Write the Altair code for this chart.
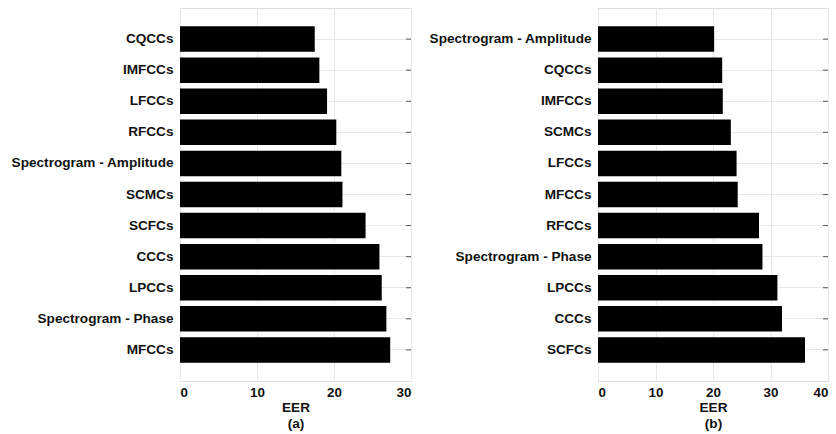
import altair as alt
import pandas as pd

# Panel (a)
cats_a = ["CQCCs", "IMFCCs", "LFCCs", "RFCCs", "Spectrogram - Amplitude", "SCMCs",
          "SCFCs", "CCCs", "LPCCs", "Spectrogram - Phase", "MFCCs"]
eer_a = [17.5, 18.1, 19.1, 20.3, 20.95, 21.1, 24.1, 25.9, 26.2, 26.8, 27.3]

# Panel (b)
cats_b = ["Spectrogram - Amplitude", "CQCCs", "IMFCCs", "SCMCs", "LFCCs", "MFCCs",
          "RFCCs", "Spectrogram - Phase", "LPCCs", "CCCs", "SCFCs"]
eer_b = [20.2, 21.6, 21.7, 23.1, 24.1, 24.3, 28.0, 28.6, 31.2, 32.0, 36.0]

ticks_a = [0, 10, 20, 30]
ticks_b = [0, 10, 20, 30, 40]

FONT = "Liberation Sans"
TXT = "#111111"
FRAME = "#969696"
GRID = "#e8e8e8"


def panel(cats, vals, ticks, xmax, letter, width):
    df = pd.DataFrame({"feature": cats, "EER": vals})
    y = alt.Y("feature:N", sort=cats,
              scale=alt.Scale(paddingInner=0.18, paddingOuter=0.59),
              axis=alt.Axis(title=None, grid=True, gridColor=GRID, domain=False,
                            ticks=False, labelPadding=7, labelFont=FONT,
                            labelFontSize=13.6, labelFontWeight="bold",
                            labelColor=TXT, labelLimit=400))
    x = alt.X("EER:Q", scale=alt.Scale(domain=[0, xmax], nice=False),
              axis=alt.Axis(values=ticks, grid=True, gridColor=GRID, domain=False,
                            ticks=False, labelPadding=4, labelFont=FONT,
                            labelFontSize=13.4, labelFontWeight="bold",
                            labelColor=TXT, title=["EER", f"({letter})"],
                            titleFont=FONT, titleFontSize=13.6,
                            titleFontWeight="bold", titleColor=TXT,
                            titlePadding=2, titleLineHeight=16))
    bars = alt.Chart(df).mark_bar(color="black").encode(x=x, y=y)
    rticks = alt.Chart(df).mark_rule(color="#555555", strokeWidth=1).encode(
        y=alt.Y("feature:N", sort=cats),
        x=alt.value(width - 5), x2=alt.value(width))
    return alt.layer(bars, rticks).properties(width=width, height=373)


left = panel(cats_a, eer_a, ticks_a, 30, "a", 231)
right = panel(cats_b, eer_b, ticks_b, 40, "b", 230)

chart = alt.hconcat(left, right, spacing=16).properties(
    padding={"left": 10, "top": 7, "right": 0, "bottom": 0}
).configure_view(stroke=FRAME, strokeWidth=1).configure(background="white")

chart.save("out.html", embed_options={"renderer": "svg", "actions": False})
